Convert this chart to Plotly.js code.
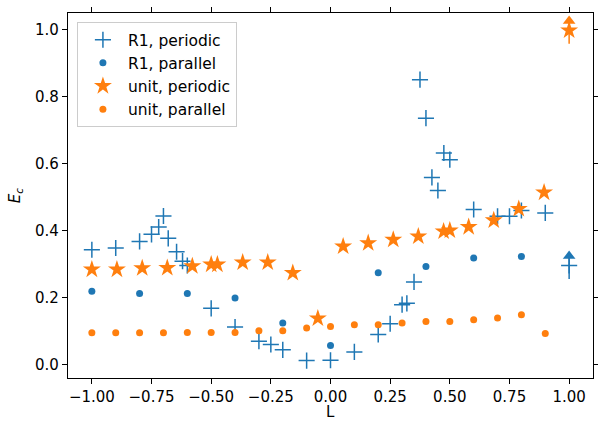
<!DOCTYPE html>
<html>
<head>
<meta charset="utf-8">
<script src="https://cdn.plot.ly/plotly-3.0.1.min.js"></script>
<style>html,body{margin:0;padding:0;background:#fff;}#chart{width:598px;height:421px;}</style>
</head>
<body>
<div id="chart"></div>
<script>
// R1, periodic
const r1PerX = [-1.0, -0.9, -0.8, -0.75, -0.72, -0.7, -0.68, -0.645, -0.62, -0.6, -0.5, -0.4, -0.3, -0.25, -0.2, -0.1, 0.0, 0.1, 0.2, 0.25, 0.3, 0.32, 0.35, 0.375, 0.4, 0.425, 0.45, 0.475, 0.5, 0.6, 0.7, 0.75, 0.8, 0.9, 1.0];
const r1PerY = [0.343, 0.348, 0.368, 0.389, 0.411, 0.444, 0.377, 0.337, 0.309, 0.296, 0.168, 0.112, 0.070, 0.060, 0.044, 0.012, 0.013, 0.038, 0.090, 0.122, 0.179, 0.183, 0.247, 0.851, 0.736, 0.559, 0.520, 0.632, 0.612, 0.463, 0.443, 0.443, 0.460, 0.453, 0.296];
// R1, parallel
const r1ParX = [-1.0, -0.8, -0.6, -0.4, -0.2, 0.0, 0.2, 0.4, 0.6, 0.8];
const r1ParY = [0.219, 0.212, 0.212, 0.199, 0.124, 0.057, 0.274, 0.293, 0.318, 0.323];
// unit, periodic
const unitPerX = [-1.0, -0.895, -0.789, -0.684, -0.579, -0.5, -0.474, -0.368, -0.263, -0.158, -0.053, 0.053, 0.158, 0.263, 0.368, 0.474, 0.5, 0.579, 0.684, 0.789, 0.895, 1.0];
const unitPerY = [0.284, 0.284, 0.288, 0.289, 0.294, 0.299, 0.299, 0.305, 0.305, 0.274, 0.138, 0.353, 0.363, 0.373, 0.383, 0.398, 0.401, 0.411, 0.431, 0.465, 0.514, 0.998];
// unit, parallel
const unitParX = [-1.0, -0.9, -0.8, -0.7, -0.6, -0.5, -0.4, -0.3, -0.2, -0.1, 0.0, 0.1, 0.2, 0.3, 0.4, 0.5, 0.6, 0.7, 0.8, 0.9];
const unitParY = [0.095, 0.095, 0.095, 0.095, 0.096, 0.096, 0.096, 0.101, 0.101, 0.109, 0.114, 0.119, 0.119, 0.124, 0.129, 0.129, 0.134, 0.139, 0.149, 0.093];
// lower-limit markers at L = 1
const limX = [1.0];
const limR1Y = [0.296];
const limR1Err = [0.04];
const limUnitY = [0.998];
const limUnitErr = [0.04];
// ticks and labels
const xTicks = [-1.0, -0.75, -0.5, -0.25, 0.0, 0.25, 0.5, 0.75, 1.0];
const yTicks = [0.0, 0.2, 0.4, 0.6, 0.8, 1.0];
const xLabel = 'L';
const yLabel = '<i>E</i><sub><i>c</i></sub>';

const BLUE = '#1f77b4', ORANGE = '#ff7f0e';
const caretOffset = 0.012;

const traces = [
  {x: r1PerX, y: r1PerY, name: 'R1, periodic', type: 'scatter', mode: 'markers', legendgroup: 'a',
   marker: {symbol: 'cross-thin', size: 11.5, line: {color: BLUE, width: 1.5}, color: BLUE}},
  {x: r1ParX, y: r1ParY, name: 'R1, parallel', type: 'scatter', mode: 'markers', legendgroup: 'b',
   marker: {symbol: 'circle', size: 7, color: BLUE}},
  {x: unitPerX, y: unitPerY, name: 'unit, periodic', type: 'scatter', mode: 'markers', legendgroup: 'c',
   marker: {symbol: 'star', size: 13.5, color: ORANGE, line: {width: 0}}},
  {x: unitParX, y: unitParY, name: 'unit, parallel', type: 'scatter', mode: 'markers', legendgroup: 'd',
   marker: {symbol: 'circle', size: 7, color: ORANGE}},
  // error bars for limits
  {x: limX, y: limR1Y, type: 'scatter', mode: 'markers', showlegend: false, hoverinfo: 'skip',
   marker: {size: 1, color: 'rgba(0,0,0,0)'},
   error_y: {type: 'data', array: limR1Err, visible: true, color: BLUE, thickness: 1.5, width: 0}},
  {x: limX, y: limR1Y.map((v, i) => v + limR1Err[i] - caretOffset), type: 'scatter', mode: 'markers', showlegend: false, hoverinfo: 'skip',
   marker: {symbol: 'triangle-up', size: 11, color: BLUE}},
  {x: limX, y: limUnitY, type: 'scatter', mode: 'markers', showlegend: false, hoverinfo: 'skip',
   marker: {size: 1, color: 'rgba(0,0,0,0)'},
   error_y: {type: 'data', array: limUnitErr, visible: true, color: ORANGE, thickness: 1.5, width: 0}},
  {x: limX, y: limUnitY.map((v, i) => v + limUnitErr[i] - caretOffset), type: 'scatter', mode: 'markers', showlegend: false, hoverinfo: 'skip',
   marker: {symbol: 'triangle-up', size: 11, color: ORANGE}}
];

const axisCommon = {
  showline: true, linecolor: '#000', linewidth: 1.1, mirror: 'ticks',
  ticks: 'outside', ticklen: 5, tickwidth: 1.1, tickcolor: '#000',
  showgrid: false, zeroline: false,
  tickfont: {family: 'DejaVu Sans', size: 15, color: '#000'}
};

const layout = {
  width: 598, height: 421,
  margin: {l: 68, r: 5, t: 13, b: 43},
  paper_bgcolor: '#fff', plot_bgcolor: '#fff',
  font: {family: 'DejaVu Sans', size: 15, color: '#000'},
  showlegend: true,
  legend: {x: 0.017, y: 0.975, xanchor: 'left', yanchor: 'top',
    bgcolor: 'rgba(255,255,255,0.8)', bordercolor: '#cccccc', borderwidth: 1,
    font: {family: 'DejaVu Sans', size: 15.5, color: '#000'},
    traceorder: 'grouped', tracegroupgap: 0, itemwidth: 40},
  xaxis: Object.assign({}, axisCommon, {
    range: [-1.1, 1.1], tickvals: xTicks, tickformat: '.2f'
  }),
  yaxis: Object.assign({}, axisCommon, {
    range: [-0.04, 1.05], tickvals: yTicks, tickformat: '.1f',
    title: {text: yLabel, font: {family: 'DejaVu Sans', size: 15, color: '#000'}, standoff: 10}
  }),
  annotations: [
    {text: xLabel, xref: 'paper', yref: 'paper', x: 0.5, y: -0.066, xanchor: 'center', yanchor: 'top',
     borderpad: 0, showarrow: false, font: {family: 'DejaVu Sans', size: 15, color: '#000'}}
  ]
};

Plotly.newPlot('chart', traces, layout, {displayModeBar: false, staticPlot: true});
</script>
</body>
</html>
